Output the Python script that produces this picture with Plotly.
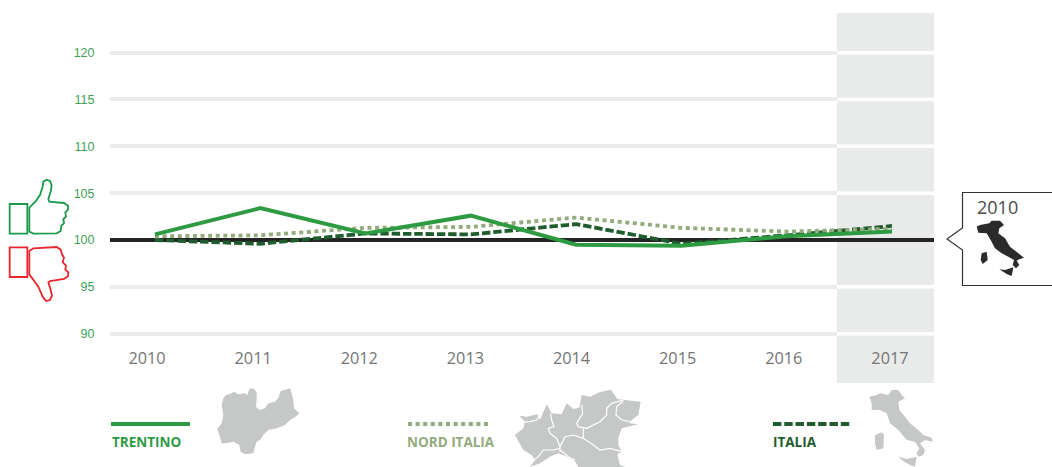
import plotly.graph_objects as go

years = [2010, 2011, 2012, 2013, 2014, 2015, 2016, 2017]
trentino = [100.6, 103.4, 100.7, 102.6, 99.5, 99.4, 100.4, 100.9]
nord_italia = [100.4, 100.5, 101.3, 101.4, 102.4, 101.3, 100.9, 101.2]
italia = [100.0, 99.6, 100.7, 100.6, 101.7, 99.6, 100.5, 101.5]
y_ticks = [90, 95, 100, 105, 110, 115, 120]

GREEN = "#2e9b42"
SAGE = "#94ab7e"
DARK = "#1f5c2e"
TICK_GREEN = "#3f9f58"
GREY_TXT = "#757575"
MAP = "#c6c8c8"
BAND = "#e9ebeb"
INK = "#242424"

W, H = 1052, 467
L, R, T, B = 110, 934, 13, 383
X_RANGE = [2009.651, 2017.415]


def px(x):
    return (x - L) / (R - L)


def py(y):
    return (B - y) / (B - T)


def xv(x):
    return X_RANGE[0] + px(x) * (X_RANGE[1] - X_RANGE[0])


def path(points, closed=True):
    s = "M " + " L ".join(f"{px(x):.5f},{py(y):.5f}" for x, y in points)
    return s + (" Z" if closed else "")


def place(points, ox, oy, s=1 / 3):
    return [(ox + x * s, oy + y * s) for x, y in points]


shapes = []
annotations = []


def poly(points, fill=None, line=None, width=0, closed=True, layer="above", dash=None):
    shapes.append(dict(type="path", xref="paper", yref="paper", layer=layer,
                       path=path(points, closed),
                       fillcolor=fill if fill else "rgba(0,0,0,0)",
                       line=dict(color=line if line else "rgba(0,0,0,0)", width=width, dash=dash)))


def label(text, x, y, color, size, family, bold=False, anchor="left"):
    annotations.append(dict(text=f"<b>{text}</b>" if bold else text, xref="paper", yref="paper",
                            x=px(x), y=py(y), xanchor=anchor, yanchor="middle", showarrow=False,
                            font=dict(color=color, size=size, family=family)))


# Highlight band and its white grid interruptions
shapes.append(dict(type="rect", xref="x", yref="paper", layer="between",
                   x0=xv(837), x1=xv(R), y0=0, y1=1, fillcolor=BAND, line=dict(width=0)))
for v in y_ticks:
    shapes.append(dict(type="line", xref="x", yref="y", layer="between",
                       x0=xv(837), x1=xv(R), y0=v, y1=v, line=dict(color="white", width=3.5)))
# Baseline at 100
shapes.append(dict(type="line", xref="x", yref="y", layer="between",
                   x0=xv(L), x1=xv(R), y0=100, y1=100, line=dict(color=INK, width=4)))

# Thumbs
poly(place([(29, 87), (82, 87), (82, 176), (29, 176)], 0, 175), line="#1a9a4b", width=1.8)
poly(place([(88, 98), (108, 78), (120, 60), (128, 35), (130, 20), (140, 14), (150, 18), (155, 32), (152, 50),
            (145, 72), (148, 80), (192, 84), (204, 92), (204, 104), (196, 112), (198, 125), (190, 132), (192, 145),
            (184, 152), (182, 168), (170, 175), (100, 176), (88, 170)], 0, 175), line="#1a9a4b", width=1.8)
poly(place([(29, 217), (82, 217), (82, 306), (29, 306)], 0, 175), line="#e8262d", width=1.8)
poly(place([(88, 228), (100, 220), (170, 216), (182, 224), (186, 238), (192, 248), (188, 262), (198, 272),
            (196, 284), (205, 292), (204, 304), (192, 312), (150, 318), (145, 322), (152, 345), (156, 362),
            (150, 375), (138, 378), (128, 365), (115, 335), (88, 298)], 0, 175), line="#e8262d", width=1.8)

# Legend maps
TN = [(40, 40), (48, 30), (65, 25), (72, 20), (85, 28), (105, 25), (112, 30), (118, 12), (128, 10), (140, 20),
      (140, 45), (138, 65), (148, 75), (165, 70), (175, 55), (195, 50), (205, 40), (212, 18), (240, 10), (245, 25),
      (250, 45), (252, 70), (268, 85), (255, 97), (240, 105), (225, 120), (212, 125), (200, 130), (175, 135),
      (160, 150), (150, 165), (140, 170), (135, 185), (130, 205), (105, 208), (92, 200), (88, 180), (70, 170),
      (50, 175), (35, 175), (28, 150), (22, 132), (35, 115), (40, 90), (35, 60)]
poly(place(TN, 210, 385), fill=MAP)

NORD = [(28, 92), (50, 95), (82, 88), (90, 105), (110, 58), (125, 85), (155, 88), (170, 55), (190, 72), (208, 68),
        (215, 30), (240, 35), (268, 22), (303, 14), (322, 42), (345, 45), (392, 50), (385, 90), (365, 105),
        (358, 115), (385, 118), (335, 130), (325, 160), (325, 180), (335, 200), (322, 207), (330, 240), (345, 246),
        (205, 246), (195, 228), (165, 212), (145, 205), (120, 215), (90, 235), (60, 246), (75, 225), (65, 210),
        (40, 195), (15, 150), (40, 130), (45, 110)]
poly(place(NORD, 510, 385), fill=MAP)
BORDERS = [
    [(35, 112), (60, 110), (80, 105), (90, 88)],
    [(122, 85), (125, 105), (132, 125), (115, 130), (120, 145), (140, 160), (150, 185), (150, 200)],
    [(215, 60), (218, 85), (200, 115), (205, 125), (230, 130), (270, 110), (290, 90), (290, 70), (305, 55), (340, 45)],
    [(340, 48), (320, 65), (318, 90), (335, 105), (360, 110)],
    [(150, 185), (165, 155), (190, 150), (220, 160), (250, 180), (270, 195), (300, 190), (335, 200)],
    [(220, 130), (220, 160)],
    [(150, 190), (130, 195), (100, 195), (85, 215), (60, 235)],
    [(150, 195), (175, 215), (195, 225)],
]
for b in BORDERS:
    poly(place(b, 510, 385), line="white", width=1.2, closed=False)

MAINLAND = [(28, 35), (50, 30), (60, 25), (85, 30), (95, 15), (115, 15), (125, 30), (135, 40), (115, 50), (118, 75),
            (135, 95), (150, 115), (175, 135), (190, 150), (215, 158), (218, 170), (195, 165), (180, 175), (195, 195),
            (190, 210), (175, 215), (170, 205), (178, 190), (165, 170), (140, 165), (115, 135), (90, 115), (80, 85),
            (60, 75), (35, 75), (35, 55)]
SARDINIA = [(45, 150), (65, 142), (72, 150), (70, 190), (50, 195), (45, 175)]
SICILY = [(115, 215), (140, 222), (170, 215), (165, 245), (150, 240), (125, 225)]
for part in (MAINLAND, SARDINIA, SICILY):
    poly(place(part, 860, 385), fill=MAP)

# Callout
poly([(1058, 192.5), (962.5, 192.5), (962.5, 228), (947, 239), (962.5, 250), (962.5, 285.5), (1058, 285.5)],
     fill="white", line="#333333", width=1.2, closed=False)
CALL_MAIN = [(50, 110), (60, 105), (88, 100), (95, 92), (120, 92), (132, 105), (118, 115), (115, 130), (135, 145),
             (150, 170), (175, 190), (192, 203), (178, 208), (170, 212), (178, 225), (168, 235), (158, 225),
             (162, 210), (145, 200), (125, 190), (105, 175), (92, 150), (80, 130), (55, 128)]
CALL_SARD = [(65, 190), (80, 185), (83, 210), (68, 222), (62, 210)]
CALL_SIC = [(118, 238), (135, 240), (160, 232), (155, 258), (140, 252)]
for part in (CALL_MAIN, CALL_SARD, CALL_SIC):
    poly(place(part, 960, 190), fill="#2b2b2b")
label("2010", 975, 207, "#4a4a4a", 18, "Open Sans")

# Legend keys
poly([(111, 424), (190, 424)], line=GREEN, width=4, closed=False)
poly([(408, 424), (488, 424)], line=SAGE, width=4, closed=False, dash="4px,3.6px")
poly([(773, 424), (850, 424)], line=DARK, width=4, closed=False, dash="8.4px,2.9px")
label("TRENTINO", 110, 442, GREEN, 13.5, "Open Sans", True)
label("NORD ITALIA", 405, 442, SAGE, 13.5, "Open Sans", True)
label("ITALIA", 771, 442, DARK, 13.5, "Open Sans", True)

fig = go.Figure()
# carries the year labels
fig.add_trace(go.Scatter(x=years, y=trentino, xaxis="x", yaxis="y", mode="lines",
                         line=dict(color="rgba(0,0,0,0)"), hoverinfo="skip", showlegend=False))
fig.add_trace(go.Scatter(x=years, y=italia, xaxis="x2", yaxis="y", mode="lines", name="ITALIA",
                         line=dict(color=DARK, width=3.8, dash="8.4px,2.9px")))
fig.add_trace(go.Scatter(x=years, y=nord_italia, xaxis="x2", yaxis="y", mode="lines", name="NORD ITALIA",
                         line=dict(color=SAGE, width=3.8, dash="4px,3.6px")))
fig.add_trace(go.Scatter(x=years, y=trentino, xaxis="x2", yaxis="y", mode="lines", name="TRENTINO",
                         line=dict(color=GREEN, width=4)))

fig.update_layout(
    width=W, height=H, autosize=False, showlegend=False,
    margin=dict(l=L, r=W - R, t=T, b=H - B, pad=0),
    paper_bgcolor="white", plot_bgcolor="white",
    shapes=shapes, annotations=annotations,
    xaxis=dict(range=X_RANGE, tickvals=years, ticktext=[str(y) for y in years],
               showgrid=False, zeroline=False, showline=False, ticks="", anchor="free",
               position=(B - 347) / (B - T),
               tickfont=dict(color=GREY_TXT, size=16.3, family="Open Sans")),
    xaxis2=dict(range=[2009.573, 2017.399], overlaying="x", visible=False),
    yaxis=dict(range=[84.74, 124.23], tickvals=y_ticks, ticktext=[str(v) for v in y_ticks],
               showgrid=True, gridcolor="#ebecec", gridwidth=4, zeroline=False, showline=False,
               ticks="outside", ticklen=12, tickcolor="rgba(0,0,0,0)",
               tickfont=dict(color=TICK_GREEN, size=12.5, family="Liberation Sans")),
)
fig.write_html("out.html", config={"displayModeBar": False},
               post_script="document.body.style.margin='0';document.documentElement.style.overflow='hidden';")
